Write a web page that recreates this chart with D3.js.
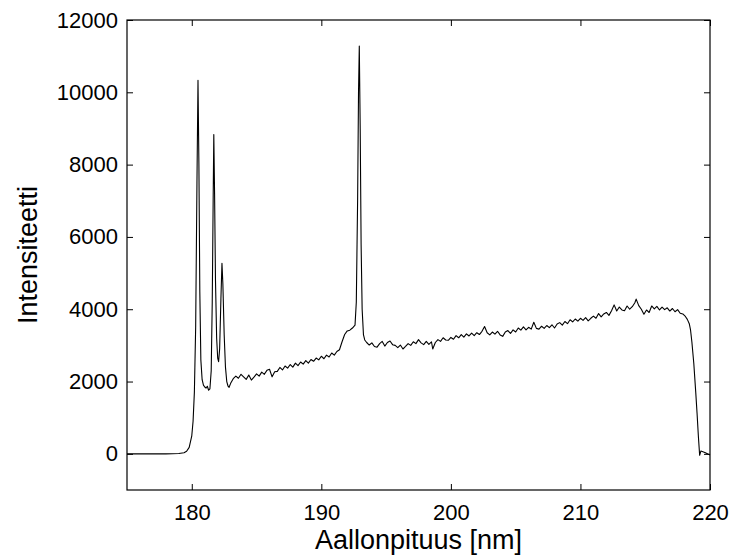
<!DOCTYPE html>
<html>
<head>
<meta charset="utf-8">
<script src="https://cdn.jsdelivr.net/npm/d3@7"></script>
<style>
  body { margin: 0; background: #fff; }
  svg text { font-family: "Liberation Sans", Arial, sans-serif; fill: #000; }
</style>
</head>
<body>
<div id="graph-container"></div>
<script>
// spectrum: wavelength [nm] and intensity
var wavelength = [
  175.0, 176.0, 177.0, 178.0, 179.0, 179.4, 179.6, 179.8, 180.0, 180.1,
  180.2, 180.3, 180.4, 180.48, 180.55, 180.62, 180.7, 180.8, 180.9, 181.0,
  181.1, 181.2, 181.3, 181.4, 181.5, 181.58, 181.65, 181.7, 181.76, 181.83,
  181.92, 182.0, 182.07, 182.15, 182.25, 182.33, 182.4, 182.5, 182.6, 182.7,
  182.8, 182.88, 183.0, 183.2, 183.4, 183.6, 183.8, 184.0, 184.2, 184.4,
  184.6, 184.8, 185.0, 185.2, 185.4, 185.6, 185.8, 186.0, 186.2, 186.4,
  186.6, 186.8, 187.0, 187.2, 187.4, 187.6, 187.8, 188.0, 188.2, 188.4,
  188.6, 188.8, 189.0, 189.2, 189.4, 189.6, 189.8, 190.0, 190.2, 190.4,
  190.6, 190.8, 191.0, 191.2, 191.4, 191.6, 191.8, 192.0, 192.2, 192.4,
  192.6, 192.7, 192.8, 192.87, 192.93, 193.0, 193.07, 193.15, 193.25, 193.35,
  193.5, 193.7, 193.9, 194.1, 194.3, 194.5, 194.7, 194.9, 195.1, 195.3,
  195.5, 195.7, 195.9, 196.1, 196.3, 196.5, 196.7, 196.9, 197.1, 197.3,
  197.5, 197.7, 197.9, 198.1, 198.3, 198.5, 198.6, 198.8, 199.0, 199.2,
  199.4, 199.6, 199.8, 200.0, 200.2, 200.4, 200.6, 200.8, 201.0, 201.2,
  201.4, 201.6, 201.8, 202.0, 202.2, 202.4, 202.6, 202.8, 203.0, 203.2,
  203.4, 203.6, 203.8, 204.0, 204.2, 204.4, 204.6, 204.8, 205.0, 205.2,
  205.4, 205.6, 205.8, 206.0, 206.2, 206.4, 206.6, 206.8, 207.0, 207.2,
  207.4, 207.6, 207.8, 208.0, 208.2, 208.4, 208.6, 208.8, 209.0, 209.2,
  209.4, 209.6, 209.8, 210.0, 210.2, 210.4, 210.6, 210.8, 211.0, 211.2,
  211.4, 211.6, 211.8, 212.0, 212.2, 212.4, 212.6, 212.8, 213.0, 213.2,
  213.4, 213.6, 213.8, 214.0, 214.2, 214.3, 214.5, 214.7, 214.9, 215.1,
  215.3, 215.5, 215.7, 215.9, 216.1, 216.3, 216.5, 216.7, 216.9, 217.1,
  217.3, 217.5, 217.7, 217.9, 218.1, 218.25, 218.4, 218.5, 218.6, 218.75,
  218.9, 219.0, 219.1, 219.2, 219.3, 219.6, 220.0
];
var intensity = [
  0, 0, 0, 0, 10, 30, 70, 180, 500, 900,
  1700, 3500, 7500, 10330, 8000, 4500, 2600, 2050, 1900, 1850,
  1820, 1870, 1760, 1800, 2300, 4200, 7000, 8830, 7200, 4800,
  3200, 2650, 2550, 2900, 4300, 5270, 4700, 3300, 2400, 2000,
  1870, 1840, 1950, 2080, 2150, 2090, 2200, 2130, 2060, 2180,
  2040, 2120, 2210, 2150, 2260, 2200, 2310, 2340, 2130, 2270,
  2280, 2390, 2320, 2430, 2370, 2470, 2400, 2510, 2440, 2540,
  2480, 2580, 2510, 2610, 2560, 2650, 2600, 2700, 2630, 2730,
  2680, 2790, 2730, 2830, 2880, 3100, 3300, 3400, 3420, 3480,
  3560, 4200, 7000, 10000, 11280, 9000, 5800, 4000, 3300, 3150,
  3080, 3010, 3070, 2970, 2950, 3050, 3110, 2980, 3080, 3120,
  3020, 3000, 2940, 3010, 2900, 2970, 3050, 3000, 3100, 3050,
  3160, 3070, 3020, 3110, 3030, 3100, 2900, 3080, 3160, 3110,
  3210, 3150, 3140, 3220, 3170, 3270, 3210, 3300, 3230, 3320,
  3260, 3340, 3270, 3350, 3300, 3390, 3520, 3350, 3290, 3370,
  3310, 3390, 3290, 3250, 3370, 3410, 3330, 3430, 3370, 3480,
  3420, 3510, 3430, 3500, 3450, 3640, 3470, 3450, 3530, 3470,
  3550, 3490, 3570, 3480, 3590, 3630, 3560, 3660, 3600, 3710,
  3650, 3730, 3670, 3750, 3690, 3770, 3680, 3750, 3810, 3750,
  3880, 3790, 3870, 3910, 3830, 3960, 4120, 3950, 4060, 3980,
  3960, 4090, 4000, 4070, 4180, 4280, 4100, 4000, 3860, 3980,
  3910, 4090, 4010, 4080, 3980, 4060, 3990, 4040, 3950, 4020,
  3930, 3990, 3890, 3870, 3800, 3720, 3600, 3420, 3100, 2500,
  1700, 1130, 500, -40, 80, 40, -30
];
var x_ticks = [180, 190, 200, 210, 220];
var y_ticks = [0, 2000, 4000, 6000, 8000, 10000, 12000];
var x_domain = [175, 220];
var y_domain = [-1000, 12000];
var x_title = 'Aallonpituus [nm]';
var y_title = 'Intensiteetti';

var W = 734, H = 558;
var margin = {top: 20, right: 24, bottom: 68, left: 127};
var w = W - margin.left - margin.right;
var h = H - margin.top - margin.bottom;

var svg = d3.select('#graph-container').append('svg').attr('width', W).attr('height', H);
var g = svg.append('g').attr('transform', `translate(${margin.left},${margin.top})`);

var x = d3.scaleLinear().domain(x_domain).range([0, w]);
var y = d3.scaleLinear().domain(y_domain).range([h, 0]);

// axes with inward ticks, matlab style (ticks on all four sides)
var tick_len = 6;
var font_size = 22;

g.append('g').attr('transform', `translate(0,${h})`)
  .call(d3.axisBottom(x).tickValues(x_ticks).tickSize(-tick_len).tickPadding(tick_len + 8).tickFormat(d3.format('d')))
  .call(a => a.select('.domain').remove());
g.append('g')
  .call(d3.axisTop(x).tickValues(x_ticks).tickSize(-tick_len).tickFormat(''))
  .call(a => a.select('.domain').remove());
g.append('g')
  .call(d3.axisLeft(y).tickValues(y_ticks).tickSize(-tick_len).tickPadding(tick_len + 3).tickFormat(d3.format('d')))
  .call(a => a.select('.domain').remove());
g.append('g').attr('transform', `translate(${w},0)`)
  .call(d3.axisRight(y).tickValues(y_ticks).tickSize(-tick_len).tickFormat(''))
  .call(a => a.select('.domain').remove());

g.selectAll('.tick line').attr('stroke', '#000').attr('stroke-width', 1);
g.selectAll('.tick text').attr('font-size', font_size).attr('font-family', '"Liberation Sans", Arial, sans-serif');

g.append('rect').attr('x', 0).attr('y', 0).attr('width', w).attr('height', h)
  .attr('fill', 'none').attr('stroke', '#000').attr('stroke-width', 1.2);

var pts = wavelength.map((d, i) => [d, intensity[i]]);
var line = d3.line().x(d => x(d[0])).y(d => y(d[1]));

g.append('path').datum(pts)
  .attr('d', line)
  .attr('fill', 'none')
  .attr('stroke', '#000')
  .attr('stroke-width', 1.1)
  .attr('stroke-linejoin', 'round');

svg.append('text')
  .attr('x', margin.left + w / 2)
  .attr('y', 549)
  .attr('text-anchor', 'middle')
  .attr('font-size', 27)
  .text(x_title);

svg.append('text')
  .attr('transform', `translate(37,${margin.top + h / 2}) rotate(-90)`)
  .attr('text-anchor', 'middle')
  .attr('font-size', 27)
  .text(y_title);
</script>
</body>
</html>
